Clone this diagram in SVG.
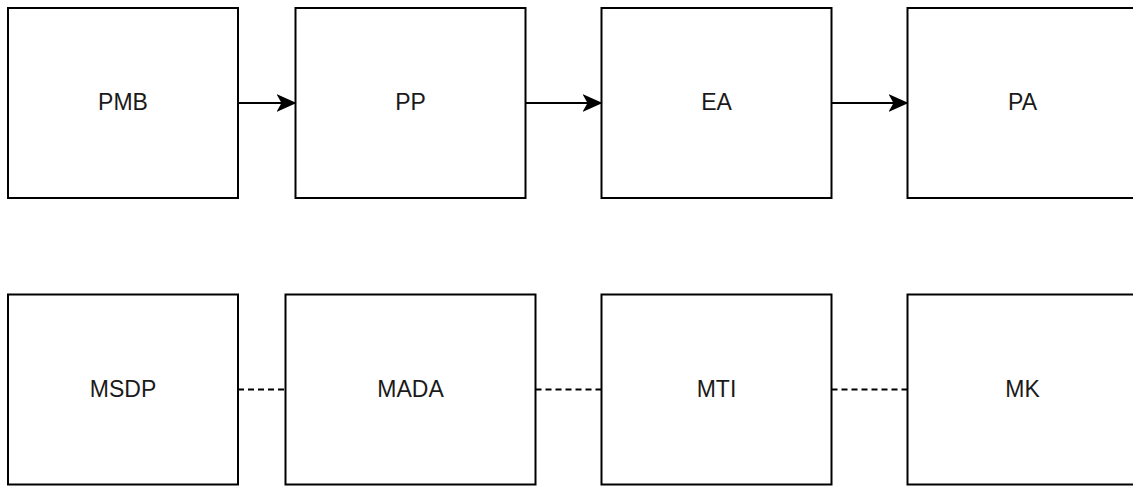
<svg xmlns="http://www.w3.org/2000/svg" width="1133" height="486" viewBox="0 0 1133 486">
  <defs>
    <style>
      .box { fill: #ffffff; stroke: #000000; stroke-width: 2; }
      .label { font-family: "Liberation Sans", Arial, sans-serif; font-size: 23px; fill: #1a1a1a; text-anchor: middle; dominant-baseline: central; }
      .flow { fill: none; stroke: #000000; stroke-width: 2; }
      .link { fill: none; stroke: #000000; stroke-width: 1.8; stroke-dasharray: 6 4; }
    </style>
    <marker id="arrow" viewBox="0 0 20 18" refX="19" refY="9" markerWidth="20" markerHeight="18" markerUnits="userSpaceOnUse" orient="auto">
      <path d="M0,0 L20,9 L0,18 L5,9 Z" fill="#000000"/>
    </marker>
  </defs>
  <rect width="1133" height="486" fill="#ffffff"/>

  <!-- top row: process chain -->
  <g id="node-pmb">
    <rect class="box" x="8" y="8" width="230" height="190"/>
    <text class="label" x="123" y="102">PMB</text>
  </g>
  <g id="node-pp">
    <rect class="box" x="295.5" y="8" width="230" height="190"/>
    <text class="label" x="410.5" y="102">PP</text>
  </g>
  <g id="node-ea">
    <rect class="box" x="601.5" y="8" width="230" height="190"/>
    <text class="label" x="716.5" y="102">EA</text>
  </g>
  <g id="node-pa">
    <rect class="box" x="907.5" y="8" width="230" height="190"/>
    <text class="label" x="1022.5" y="102">PA</text>
  </g>

  <!-- bottom row: modules -->
  <g id="node-msdp">
    <rect class="box" x="8" y="294.5" width="230" height="190"/>
    <text class="label" x="123" y="389">MSDP</text>
  </g>
  <g id="node-mada">
    <rect class="box" x="285.5" y="294.5" width="250" height="190"/>
    <text class="label" x="410.5" y="389">MADA</text>
  </g>
  <g id="node-mti">
    <rect class="box" x="601.5" y="294.5" width="230" height="190"/>
    <text class="label" x="716.5" y="389">MTI</text>
  </g>
  <g id="node-mk">
    <rect class="box" x="907.5" y="294.5" width="230" height="190"/>
    <text class="label" x="1022.5" y="389">MK</text>
  </g>

  <g id="connectors">
    <path class="flow" d="M238,103 L295.5,103" marker-end="url(#arrow)"/>
    <path class="flow" d="M525.5,103 L601.5,103" marker-end="url(#arrow)"/>
    <path class="flow" d="M831.5,103 L907.5,103" marker-end="url(#arrow)"/>
    <path class="link" d="M238,389.5 L285.5,389.5"/>
    <path class="link" d="M535.5,389.5 L601.5,389.5"/>
    <path class="link" d="M831.5,389.5 L907.5,389.5"/>
  </g>
</svg>
